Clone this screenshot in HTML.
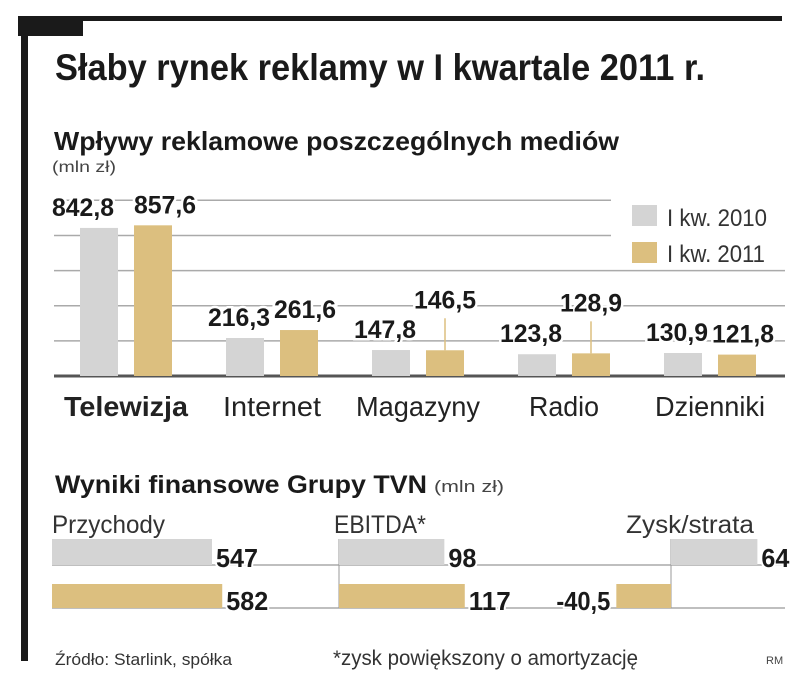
<!DOCTYPE html>
<html><head><meta charset="utf-8"><style>
html,body{margin:0;padding:0;background:#fff;}
svg{display:block;font-family:"Liberation Sans",sans-serif;}
</style></head><body>
<svg id="c" width="805" height="678" viewBox="0 0 805 678" xmlns="http://www.w3.org/2000/svg">
<rect x="18" y="16" width="764" height="5" fill="#1a1a1a"/>
<rect x="18" y="16" width="65" height="20" fill="#1a1a1a"/>
<rect x="21" y="16" width="7" height="645" fill="#1a1a1a"/>
<text x="55" y="80" font-size="37" font-weight="bold" fill="#1a1a1a" textLength="650" lengthAdjust="spacingAndGlyphs">Słaby rynek reklamy w I kwartale 2011 r.</text>
<text x="54" y="150" font-size="26" font-weight="bold" fill="#1a1a1a" textLength="565" lengthAdjust="spacingAndGlyphs">Wpływy reklamowe poszczególnych mediów</text>
<text x="52" y="172" font-size="16" fill="#444" textLength="64" lengthAdjust="spacingAndGlyphs">(mln zł)</text>
<g id="grid"></g>
<g id="bars"></g>
<g id="legend">
<rect x="632" y="205" width="25" height="21" fill="#d4d4d4"/>
<text x="667" y="226" font-size="24" fill="#333" textLength="100" lengthAdjust="spacingAndGlyphs">I kw. 2010</text>
<rect x="632" y="242" width="25" height="21" fill="#dcbf7f"/>
<text x="667" y="262" font-size="24" fill="#333" textLength="98" lengthAdjust="spacingAndGlyphs">I kw. 2011</text>
</g>
<text x="55" y="493" font-size="25" font-weight="bold" fill="#1a1a1a" textLength="372" lengthAdjust="spacingAndGlyphs">Wyniki finansowe Grupy TVN</text>
<text x="434" y="492" font-size="17" fill="#444" textLength="70" lengthAdjust="spacingAndGlyphs">(mln zł)</text>
<g id="fin"></g>
<text x="55" y="665" font-size="17" fill="#333" textLength="177" lengthAdjust="spacingAndGlyphs">Źródło: Starlink, spółka</text>
<text x="333" y="665" font-size="21" fill="#333" textLength="305" lengthAdjust="spacingAndGlyphs">*zysk powiększony o amortyzację</text>
<text x="766" y="664" font-size="11" fill="#444">RM</text>
</svg>
<script>
const categories = ["Telewizja","Internet","Magazyny","Radio","Dzienniki"];
const values2010 = [842.8, 216.3, 147.8, 123.8, 130.9];
const values2011 = [857.6, 261.6, 146.5, 128.9, 121.8];
const labels2010 = ["842,8","216,3","147,8","123,8","130,9"];
const labels2011 = ["857,6","261,6","146,5","128,9","121,8"];
const raised2011 = [false,false,true,true,false];
const gridTicks = [0,200,400,600,800,1000];

const finCategories = ["Przychody","EBITDA*","Zysk/strata"];
const fin2010 = [547, 98, 64];
const fin2011 = [582, 117, -40.5];
const finLabels2010 = ["547","98","64"];
const finLabels2011 = ["582","117","-40,5"];

const NS="http://www.w3.org/2000/svg";
function mk(tag,attrs,parent,txt){const e=document.createElementNS(NS,tag);for(const k in attrs)e.setAttribute(k,attrs[k]);if(txt!==undefined)e.textContent=txt;parent.appendChild(e);return e;}
function tw(s,d,p){let w=0;for(const ch of s)w+=(/[0-9]/.test(ch)?d:p);return w;}
const base=376, k=0.1757;
function y(v){return base - v*k;}
function gx(i){return 80 + i*146;}
const catW=[124,98,124,70,110];
const grid=document.getElementById('grid');
gridTicks.forEach((t)=>{
  const yy=y(t);
  const x2 = (yy<250)?611:785;
  const l=mk('line',{x1:54,x2:x2,y1:yy,y2:yy,stroke:t===0?'#555':'#aaa','stroke-width':t===0?3:1.5},grid);
  
  
});
const bars=document.getElementById('bars');
function lbl(x,yy,s,name){
  const t=mk('text',{x:x,y:yy,'font-size':25,'font-weight':'bold','text-anchor':'middle',fill:'#1a1a1a',stroke:'#fff','stroke-width':5,'paint-order':'stroke',textLength:tw(s,14,6),lengthAdjust:'spacingAndGlyphs'},bars,s);
  
  
}
categories.forEach((c,i)=>{
  const x0=gx(i), x1=x0+54;
  const r1=mk('rect',{x:x0,y:y(values2010[i]),width:38,height:values2010[i]*k,fill:'#d4d4d4'},bars);
  
  
  const r2=mk('rect',{x:x1,y:y(values2011[i]),width:38,height:values2011[i]*k,fill:'#dcbf7f'},bars);
  
  
  const big = i===0;
  lbl(x0+19-(big?16:6),y(values2010[i])-12,labels2010[i],'value-label-2010');
  let ly=y(values2011[i])-12;
  let off = big?12:6;
  if(raised2011[i]){
    ly=y(values2011[i])-42; off=0;
    const ld=mk('line',{x1:x1+19,x2:x1+19,y1:ly+10,y2:y(values2011[i]),stroke:'#dcbf7f','stroke-width':1.5},bars);
    
    
  }
  lbl(x1+19+off,ly,labels2011[i],'value-label-2011');
  const cl=mk('text',{x:x0+46,y:416,'font-size':28,'text-anchor':'middle',fill:'#222','font-weight':i===0?'bold':'normal',textLength:catW[i],lengthAdjust:'spacingAndGlyphs'},bars,c);
  
  
});
const fin=document.getElementById('fin');
[565,608].forEach(yy=>{
  const l=mk('line',{x1:52,x2:785,y1:yy,y2:yy,stroke:'#999','stroke-width':1.2},fin);
  
  
});
const panelX=[52,339,671], panelScale=[0.2925,1.075,1.35], headX=[52,334,626], headW=[113,92,128];
finCategories.forEach((c,i)=>{
  const h=mk('text',{x:headX[i],y:533,'font-size':25,fill:'#333',textLength:headW[i],lengthAdjust:'spacingAndGlyphs'},fin,c);
  
  
  if(i>0){const a=mk('line',{x1:panelX[i],x2:panelX[i],y1:539,y2:608,stroke:'#999','stroke-width':1},fin);
    
    }
  [[fin2010,finLabels2010,'#d4d4d4',539,565],[fin2011,finLabels2011,'#dcbf7f',584,608]].forEach(([vals,labs,col,y0,y1],j)=>{
    const v=vals[i], w=Math.abs(v)*panelScale[i];
    const bx = v>=0?panelX[i]:panelX[i]-w;
    const r=mk('rect',{x:bx,y:y0,width:w,height:y1-y0,fill:col},fin);
    
    
    const tx = v>=0?panelX[i]+w+4:panelX[i]-w-6;
    const s=labs[i];
    const t=mk('text',{x:tx,y:y1+2,'font-size':26,'font-weight':'bold',fill:'#1a1a1a','text-anchor':v>=0?'start':'end',stroke:'#fff','stroke-width':4,'paint-order':'stroke',textLength:tw(s,14,6),lengthAdjust:'spacingAndGlyphs'},fin,s);
    
    
  });
});
</script>
</body></html>
